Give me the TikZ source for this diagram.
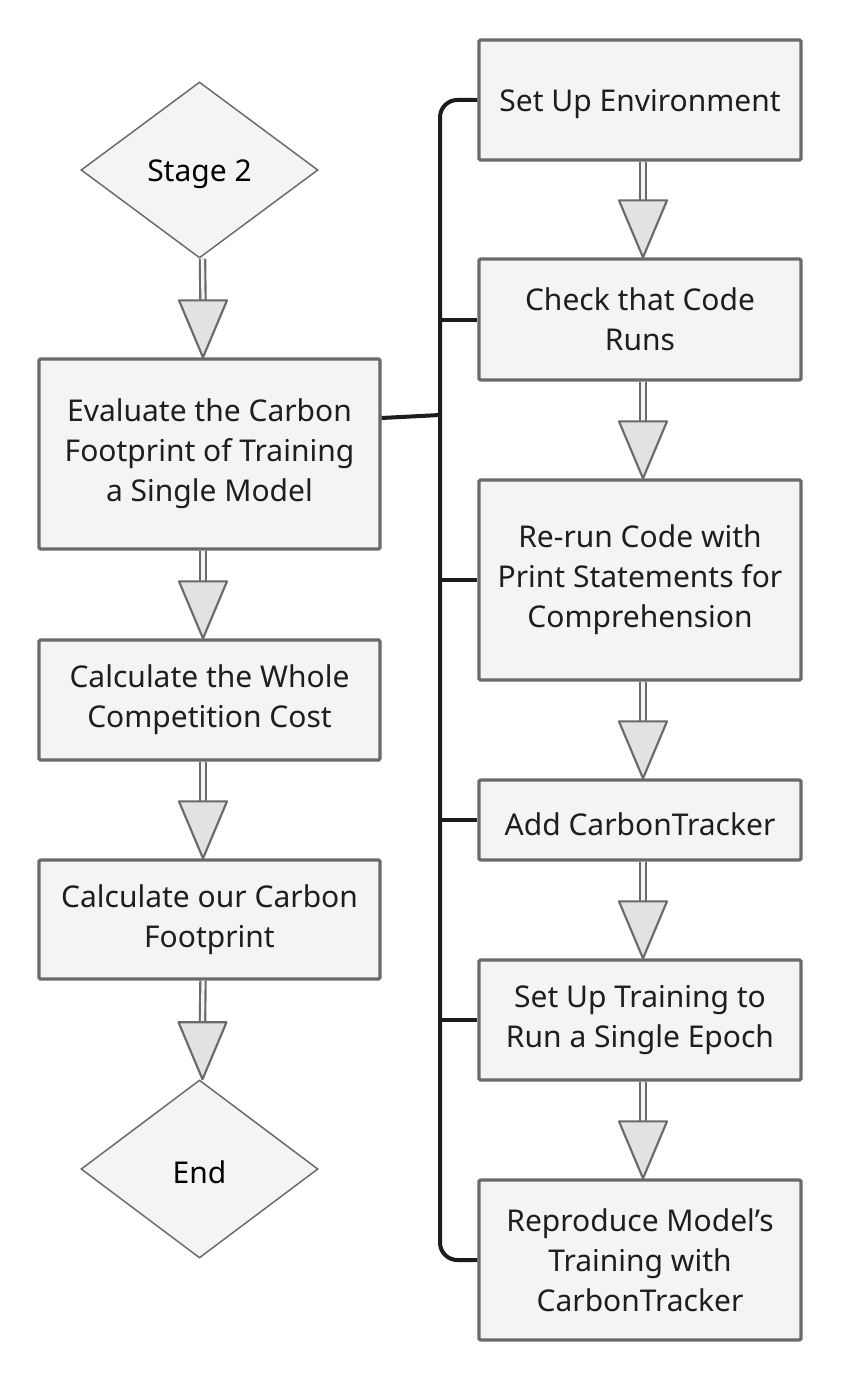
\documentclass[tikz,border=0pt]{standalone}
\usepackage{fontspec}
\setmainfont{Noto Sans}
\usetikzlibrary{shapes.geometric,positioning,calc}

\definecolor{boxfill}{HTML}{F4F4F4}
\definecolor{boxline}{HTML}{6A6A6A}
\definecolor{headfill}{HTML}{E2E2E2}
\definecolor{textcol}{HTML}{1E1E1E}
\definecolor{linkcol}{HTML}{1C1C1C}

\tikzset{
  stepbox/.style={rectangle, draw=boxline, fill=boxfill, line width=2.4pt,
    rounded corners=1pt, inner sep=0pt, align=center, text=textcol,
    font=\fontsize{22.5}{30}\selectfont,
    execute at begin node={\rule{0pt}{23pt}}},
  stagebox/.style={diamond, draw=boxline, fill=boxfill, line width=1.1pt,
    inner sep=0pt, text=black, font=\fontsize{22.5}{30}\selectfont,
    execute at begin node={\rule{0pt}{22pt}}},
  shaft/.style={draw=boxline, line width=1.6pt, double=boxfill, double distance=2.4pt},
  head/.style={draw=boxline, fill=headfill, line width=1.6pt, line join=round},
  link/.style={draw=linkcol, line width=3pt},
}

% double-line arrow with a big open triangle: #1 start, #2 tip
\newcommand{\flowarrow}[2]{%
  \draw[shaft] (#1) -- ($(#2)+(0,-56)$);
  \draw[head] ($(#2)+(-24,-57)$) -- ($(#2)+(24,-57)$) -- (#2) -- cycle;
}

\begin{document}
\begin{tikzpicture}[x=0.75pt, y=-0.75pt]
  \useasboundingbox (0,0) rectangle (841,1380);

  % Left column
  \node[stagebox, minimum width=177.75pt, minimum height=132pt] (stage) at (199.5,170) {Stage 2};
  \node[stepbox, minimum width=255.75pt, minimum height=142.5pt] (eval) at (209.5,454)
    {Evaluate the Carbon\\Footprint of Training\\a Single Model};
  \node[stepbox, minimum width=255.75pt, minimum height=90pt] (whole) at (209.5,700)
    {Calculate the Whole\\Competition Cost};
  \node[stepbox, minimum width=255.75pt, minimum height=89.25pt] (ours) at (209.5,919.5)
    {Calculate our Carbon\\Footprint};
  \node[stagebox, minimum width=177.75pt, minimum height=133.5pt] (end) at (199.5,1169) {End};

  % Right column
  \node[stepbox, minimum width=241.5pt, minimum height=90pt] (setup) at (640,100)
    {Set Up Environment};
  \node[stepbox, minimum width=241.5pt, minimum height=90.75pt] (check) at (640,319.5)
    {Check that Code\\Runs};
  \node[stepbox, minimum width=241.5pt, minimum height=150pt] (rerun) at (640,580)
    {Re-run Code with\\Print Statements for\\Comprehension};
  \node[stepbox, minimum width=241.5pt, minimum height=60pt] (addct) at (640,820)
    {Add CarbonTracker};
  \node[stepbox, minimum width=241.5pt, minimum height=90pt] (epoch) at (640,1020)
    {Set Up Training to\\Run a Single Epoch};
  \node[stepbox, minimum width=241.5pt, minimum height=120pt] (repro) at (640,1260)
    {Reproduce Model’s\\Training with\\CarbonTracker};

  % Arrows down the left column
  \flowarrow{$(stage.south)+(3,0)$}{$(eval.north)+(-6.5,0)$}
  \flowarrow{$(eval.south)+(-6.5,0)$}{$(whole.north)+(-6.5,0)$}
  \flowarrow{$(whole.south)+(-6.5,0)$}{$(ours.north)+(-6.5,0)$}
  \flowarrow{$(ours.south)+(-6.5,0)$}{$(end.north)+(3,0)$}

  % Arrows down the right column
  \flowarrow{$(setup.south)+(3,0)$}{$(check.north)+(3,0)$}
  \flowarrow{$(check.south)+(3,0)$}{$(rerun.north)+(3,0)$}
  \flowarrow{$(rerun.south)+(3,0)$}{$(addct.north)+(3,0)$}
  \flowarrow{$(addct.south)+(3,0)$}{$(epoch.north)+(3,0)$}
  \flowarrow{$(epoch.south)+(3,0)$}{$(repro.north)+(3,0)$}

  % Bracket joining the sub-steps
  \coordinate (trunk) at (440,0);
  \coordinate (join) at (440,415);
  \draw[link, rounded corners=13pt] (setup.west) -- (setup.west -| trunk)
    -- (repro.west -| trunk) -- (repro.west);
  \foreach \n in {check,rerun,addct,epoch}
    \draw[link] (\n.west) -- (\n.west -| trunk);
  \draw[link] ([yshift=27pt]eval.east) -- (join);
\end{tikzpicture}
\end{document}
